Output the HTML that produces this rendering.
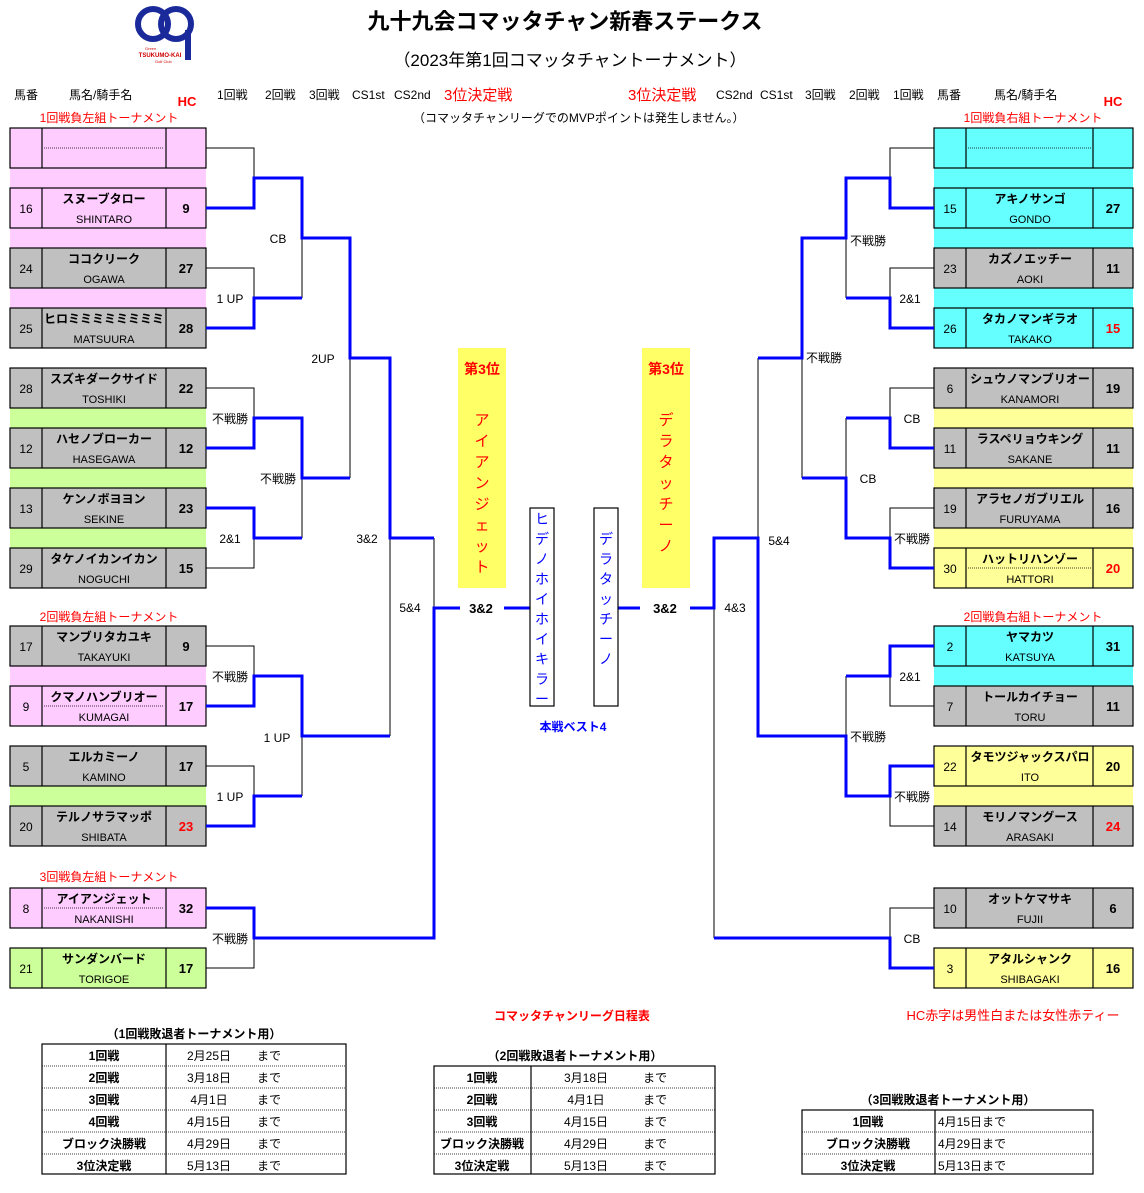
<!DOCTYPE html>
<html><head><meta charset="utf-8"><style>
body{margin:0;background:#fff}
svg{display:block;font-family:"Liberation Sans","Noto Sans CJK JP",sans-serif}
.n{font-size:12px;text-anchor:middle}
.nm{font-size:12px;font-weight:bold;text-anchor:middle}
.j{font-size:11px;text-anchor:middle}
.h{font-size:13px;font-weight:bold;text-anchor:middle}
.r{fill:#f00}
.l{font-size:12px;text-anchor:middle}
.bk{fill:none;stroke:#000;stroke-width:1}
.bl{fill:none;stroke:#00f;stroke-width:3}
.bx{stroke:#000;stroke-width:1.2}
</style></head><body>
<svg width="1144" height="1193" viewBox="0 0 1144 1193" xmlns="http://www.w3.org/2000/svg">
<g fill="none" stroke="#1a2a9a" stroke-width="6">
<circle cx="153" cy="24" r="15"/><circle cx="176" cy="24" r="15"/>
<path d="M188 30V60"/></g>
<text x="160" y="57" font-size="6" fill="#c00" font-weight="bold" text-anchor="middle">TSUKUMO-KAI</text>
<text x="145" y="50" font-size="4" fill="#c00">Green</text>
<text x="155" y="63" font-size="4" fill="#c00">Golf Club</text>
<text x="565" y="29" font-size="22" font-weight="bold" text-anchor="middle">九十九会コマッタチャン新春ステークス</text>
<text x="570" y="66" font-size="17" text-anchor="middle">（2023年第1回コマッタチャントーナメント）</text>
<g font-size="12">
<text x="14" y="99">馬番</text><text x="69" y="99">馬名/騎手名</text>
<text x="217" y="99">1回戦</text><text x="265" y="99">2回戦</text><text x="309" y="99">3回戦</text><text x="352" y="99">CS1st</text><text x="394" y="99">CS2nd</text>
<text x="716" y="99">CS2nd</text><text x="760" y="99">CS1st</text><text x="805" y="99">3回戦</text><text x="849" y="99">2回戦</text><text x="893" y="99">1回戦</text><text x="937" y="99">馬番</text><text x="994" y="99">馬名/騎手名</text>
<text x="413" y="122">（コマッタチャンリーグでのMVPポイントは発生しません。）</text>
</g>
<text x="444" y="100" font-size="15" class="r">3位決定戦</text>
<text x="628" y="100" font-size="15" class="r">3位決定戦</text>
<text x="187" y="106" class="h r">HC</text><text x="1113" y="106" class="h r">HC</text>
<g font-size="12" class="r" text-anchor="middle">
<text x="109" y="122">1回戦負左組トーナメント</text>
<text x="109" y="621">2回戦負左組トーナメント</text>
<text x="109" y="881">3回戦負左組トーナメント</text>
<text x="1033" y="122">1回戦負右組トーナメント</text>
<text x="1033" y="621">2回戦負右組トーナメント</text>
</g>
<g>
<rect x="10" y="168" width="196" height="20" fill="#fcf"/><rect x="10" y="228" width="196" height="20" fill="#fcf"/><rect x="10" y="288" width="196" height="20" fill="#fcf"/>
<rect x="10" y="408" width="196" height="20" fill="#cf9"/><rect x="10" y="468" width="196" height="20" fill="#cf9"/><rect x="10" y="528" width="196" height="20" fill="#cf9"/>
<rect x="10" y="666" width="196" height="20" fill="#fcf"/><rect x="10" y="786" width="196" height="20" fill="#cf9"/>
<rect x="934" y="168" width="199" height="20" fill="#6ff"/><rect x="934" y="228" width="199" height="20" fill="#6ff"/><rect x="934" y="288" width="199" height="20" fill="#6ff"/>
<rect x="934" y="408" width="199" height="20" fill="#ff9"/><rect x="934" y="468" width="199" height="20" fill="#ff9"/><rect x="934" y="528" width="199" height="20" fill="#ff9"/>
<rect x="934" y="666" width="199" height="20" fill="#6ff"/><rect x="934" y="786" width="199" height="20" fill="#ff9"/>
</g>
<g class="bx">
<g transform="translate(10,128)"><rect width="196" height="40" fill="#fcf"/><path d="M32 0V40M156 0V40"/><path d="M34 20H154" stroke-dasharray="1 1" stroke-width="0.8"/></g>
</g>
<g transform="translate(10,188)"><rect width="196" height="40" fill="#fcf" class="bx"/><path d="M32 0V40M156 0V40" class="bx"/><text x="16" y="25" class="n">16</text><text x="94" y="15" class="nm">スヌーブタロー</text><text x="94" y="35" class="j">SHINTARO</text><text x="176" y="25" class="h">9</text></g>
<g transform="translate(10,248)"><rect width="196" height="40" fill="#c0c0c0" class="bx"/><path d="M32 0V40M156 0V40" class="bx"/><text x="16" y="25" class="n">24</text><text x="94" y="15" class="nm">ココクリーク</text><text x="94" y="35" class="j">OGAWA</text><text x="176" y="25" class="h">27</text></g>
<g transform="translate(10,308)"><rect width="196" height="40" fill="#c0c0c0" class="bx"/><path d="M32 0V40M156 0V40" class="bx"/><text x="16" y="25" class="n">25</text><text x="94" y="15" class="nm">ヒロミミミミミミミミ</text><text x="94" y="35" class="j">MATSUURA</text><text x="176" y="25" class="h">28</text></g>
<g transform="translate(10,368)"><rect width="196" height="40" fill="#c0c0c0" class="bx"/><path d="M32 0V40M156 0V40" class="bx"/><text x="16" y="25" class="n">28</text><text x="94" y="15" class="nm">スズキダークサイド</text><text x="94" y="35" class="j">TOSHIKI</text><text x="176" y="25" class="h">22</text></g>
<g transform="translate(10,428)"><rect width="196" height="40" fill="#c0c0c0" class="bx"/><path d="M32 0V40M156 0V40" class="bx"/><text x="16" y="25" class="n">12</text><text x="94" y="15" class="nm">ハセノブローカー</text><text x="94" y="35" class="j">HASEGAWA</text><text x="176" y="25" class="h">12</text></g>
<g transform="translate(10,488)"><rect width="196" height="40" fill="#c0c0c0" class="bx"/><path d="M32 0V40M156 0V40" class="bx"/><text x="16" y="25" class="n">13</text><text x="94" y="15" class="nm">ケンノボヨヨン</text><text x="94" y="35" class="j">SEKINE</text><text x="176" y="25" class="h">23</text></g>
<g transform="translate(10,548)"><rect width="196" height="40" fill="#c0c0c0" class="bx"/><path d="M32 0V40M156 0V40" class="bx"/><text x="16" y="25" class="n">29</text><text x="94" y="15" class="nm">タケノイカンイカン</text><text x="94" y="35" class="j">NOGUCHI</text><text x="176" y="25" class="h">15</text></g>
<g transform="translate(10,626)"><rect width="196" height="40" fill="#c0c0c0" class="bx"/><path d="M32 0V40M156 0V40" class="bx"/><text x="16" y="25" class="n">17</text><text x="94" y="15" class="nm">マンブリタカユキ</text><text x="94" y="35" class="j">TAKAYUKI</text><text x="176" y="25" class="h">9</text></g>
<g transform="translate(10,686)"><rect width="196" height="40" fill="#fcf" class="bx"/><path d="M32 0V40M156 0V40" class="bx"/><path d="M34 20H154" stroke="#000" stroke-dasharray="1 1" stroke-width="0.8"/><text x="16" y="25" class="n">9</text><text x="94" y="15" class="nm">クマノハンブリオー</text><text x="94" y="35" class="j">KUMAGAI</text><text x="176" y="25" class="h">17</text></g>
<g transform="translate(10,746)"><rect width="196" height="40" fill="#c0c0c0" class="bx"/><path d="M32 0V40M156 0V40" class="bx"/><text x="16" y="25" class="n">5</text><text x="94" y="15" class="nm">エルカミーノ</text><text x="94" y="35" class="j">KAMINO</text><text x="176" y="25" class="h">17</text></g>
<g transform="translate(10,806)"><rect width="196" height="40" fill="#c0c0c0" class="bx"/><path d="M32 0V40M156 0V40" class="bx"/><text x="16" y="25" class="n">20</text><text x="94" y="15" class="nm">テルノサラマッポ</text><text x="94" y="35" class="j">SHIBATA</text><text x="176" y="25" class="h r">23</text></g>
<g transform="translate(10,888)"><rect width="196" height="40" fill="#fcf" class="bx"/><path d="M32 0V40M156 0V40" class="bx"/><path d="M34 20H154" stroke="#000" stroke-dasharray="1 1" stroke-width="0.8"/><text x="16" y="25" class="n">8</text><text x="94" y="15" class="nm">アイアンジェット</text><text x="94" y="35" class="j">NAKANISHI</text><text x="176" y="25" class="h">32</text></g>
<g transform="translate(10,948)"><rect width="196" height="40" fill="#cf9" class="bx"/><path d="M32 0V40M156 0V40" class="bx"/><text x="16" y="25" class="n">21</text><text x="94" y="15" class="nm">サンダンバード</text><text x="94" y="35" class="j">TORIGOE</text><text x="176" y="25" class="h">17</text></g>
<g transform="translate(934,128)"><rect width="199" height="40" fill="#6ff" class="bx"/><path d="M32 0V40M159 0V40" class="bx"/><path d="M34 20H157" stroke="#000" stroke-dasharray="1 1" stroke-width="0.8"/></g>
<g transform="translate(934,188)"><rect width="199" height="40" fill="#6ff" class="bx"/><path d="M32 0V40M159 0V40" class="bx"/><text x="16" y="25" class="n">15</text><text x="96" y="15" class="nm">アキノサンゴ</text><text x="96" y="35" class="j">GONDO</text><text x="179" y="25" class="h">27</text></g>
<g transform="translate(934,248)"><rect width="199" height="40" fill="#c0c0c0" class="bx"/><path d="M32 0V40M159 0V40" class="bx"/><text x="16" y="25" class="n">23</text><text x="96" y="15" class="nm">カズノエッチー</text><text x="96" y="35" class="j">AOKI</text><text x="179" y="25" class="h">11</text></g>
<g transform="translate(934,308)"><rect width="199" height="40" fill="#6ff" class="bx"/><path d="M32 0V40M159 0V40" class="bx"/><text x="16" y="25" class="n">26</text><text x="96" y="15" class="nm">タカノマンギラオ</text><text x="96" y="35" class="j">TAKAKO</text><text x="179" y="25" class="h r">15</text></g>
<g transform="translate(934,368)"><rect width="199" height="40" fill="#c0c0c0" class="bx"/><path d="M32 0V40M159 0V40" class="bx"/><text x="16" y="25" class="n">6</text><text x="96" y="15" class="nm">シュウノマンブリオー</text><text x="96" y="35" class="j">KANAMORI</text><text x="179" y="25" class="h">19</text></g>
<g transform="translate(934,428)"><rect width="199" height="40" fill="#c0c0c0" class="bx"/><path d="M32 0V40M159 0V40" class="bx"/><text x="16" y="25" class="n">11</text><text x="96" y="15" class="nm">ラスペリョウキング</text><text x="96" y="35" class="j">SAKANE</text><text x="179" y="25" class="h">11</text></g>
<g transform="translate(934,488)"><rect width="199" height="40" fill="#c0c0c0" class="bx"/><path d="M32 0V40M159 0V40" class="bx"/><text x="16" y="25" class="n">19</text><text x="96" y="15" class="nm">アラセノガブリエル</text><text x="96" y="35" class="j">FURUYAMA</text><text x="179" y="25" class="h">16</text></g>
<g transform="translate(934,548)"><rect width="199" height="40" fill="#ff9" class="bx"/><path d="M32 0V40M159 0V40" class="bx"/><path d="M34 20H157" stroke="#000" stroke-dasharray="1 1" stroke-width="0.8"/><text x="16" y="25" class="n">30</text><text x="96" y="15" class="nm">ハットリハンゾー</text><text x="96" y="35" class="j">HATTORI</text><text x="179" y="25" class="h r">20</text></g>
<g transform="translate(934,626)"><rect width="199" height="40" fill="#6ff" class="bx"/><path d="M32 0V40M159 0V40" class="bx"/><text x="16" y="25" class="n">2</text><text x="96" y="15" class="nm">ヤマカツ</text><text x="96" y="35" class="j">KATSUYA</text><text x="179" y="25" class="h">31</text></g>
<g transform="translate(934,686)"><rect width="199" height="40" fill="#c0c0c0" class="bx"/><path d="M32 0V40M159 0V40" class="bx"/><text x="16" y="25" class="n">7</text><text x="96" y="15" class="nm">トールカイチョー</text><text x="96" y="35" class="j">TORU</text><text x="179" y="25" class="h">11</text></g>
<g transform="translate(934,746)"><rect width="199" height="40" fill="#ff9" class="bx"/><path d="M32 0V40M159 0V40" class="bx"/><text x="16" y="25" class="n">22</text><text x="96" y="15" class="nm">タモツジャックスパロ</text><text x="96" y="35" class="j">ITO</text><text x="179" y="25" class="h">20</text></g>
<g transform="translate(934,806)"><rect width="199" height="40" fill="#c0c0c0" class="bx"/><path d="M32 0V40M159 0V40" class="bx"/><text x="16" y="25" class="n">14</text><text x="96" y="15" class="nm">モリノマングース</text><text x="96" y="35" class="j">ARASAKI</text><text x="179" y="25" class="h r">24</text></g>
<g transform="translate(934,888)"><rect width="199" height="40" fill="#c0c0c0" class="bx"/><path d="M32 0V40M159 0V40" class="bx"/><text x="16" y="25" class="n">10</text><text x="96" y="15" class="nm">オットケマサキ</text><text x="96" y="35" class="j">FUJII</text><text x="179" y="25" class="h">6</text></g>
<g transform="translate(934,948)"><rect width="199" height="40" fill="#ff9" class="bx"/><path d="M32 0V40M159 0V40" class="bx"/><text x="16" y="25" class="n">3</text><text x="96" y="15" class="nm">アタルシャンク</text><text x="96" y="35" class="j">SHIBAGAKI</text><text x="179" y="25" class="h">16</text></g>
<path class="bk" d="M206 148H254V178M206 268H254V298M302 298V238M350 358V478M206 388H254V418M206 568H254V538M302 478V538M390 538V736M206 646H254V676M206 766H254V796M302 736V796M434 538V608M206 968H254V938
M934 148H890V178M934 268H890V298M846 238V298M758 358V538M934 388H890V418M846 418V478M934 508H890V538M802 358V478M934 706H890V676M846 676V736M934 826H890V796M934 908H890V938M714 608V938"/>
<path class="bl" d="M206 208H254V178H302V238H350V358H390V538H434M206 328H254V298H302M206 448H254V418H302V478H350M206 508H254V538H302M206 706H254V676H302V736H390M206 826H254V796H302M206 908H254V938H434V608H460M504 608H530M618 608H640M690 608H714V538H758V736H846V796H890V766H934M934 646H890V676H846
M934 208H890V178H846V238H802V358H758M934 328H890V298H846M934 448H890V418H846M934 568H890V538H846V478H802M934 968H890V938H714"/>
<g class="l">
<text x="278" y="243">CB</text><text x="230" y="303">1 UP</text><text x="323" y="363">2UP</text>
<text x="230" y="423">不戦勝</text><text x="278" y="483">不戦勝</text><text x="230" y="543">2&amp;1</text><text x="367" y="543">3&amp;2</text>
<text x="410" y="612">5&amp;4</text><text x="230" y="681">不戦勝</text><text x="277" y="742">1 UP</text><text x="230" y="801">1 UP</text><text x="230" y="943">不戦勝</text>
<text x="868" y="245">不戦勝</text><text x="910" y="303">2&amp;1</text><text x="824" y="362">不戦勝</text>
<text x="912" y="423">CB</text><text x="868" y="483">CB</text><text x="779" y="545">5&amp;4</text><text x="912" y="543">不戦勝</text>
<text x="735" y="612">4&amp;3</text><text x="910" y="681">2&amp;1</text><text x="868" y="741">不戦勝</text><text x="912" y="801">不戦勝</text><text x="912" y="943">CB</text>
</g>
<text x="481" y="613" font-size="13" font-weight="bold" text-anchor="middle">3&amp;2</text>
<text x="665" y="613" font-size="13" font-weight="bold" text-anchor="middle">3&amp;2</text>
<rect x="458" y="348" width="48" height="240" fill="#ff6"/>
<rect x="642" y="348" width="48" height="240" fill="#ff6"/>
<g font-size="14" font-weight="bold" class="r" text-anchor="middle"><text x="482" y="374">第3位</text><text x="666" y="374">第3位</text></g>
<g font-size="15" class="r" text-anchor="middle">
<text x="482" y="425">ア</text><text x="482" y="446">イ</text><text x="482" y="467">ア</text><text x="482" y="488">ン</text><text x="482" y="509">ジ</text><text x="482" y="530">ェ</text><text x="482" y="551">ッ</text><text x="482" y="572">ト</text>
<text x="666" y="425">デ</text><text x="666" y="446">ラ</text><text x="666" y="467">タ</text><text x="666" y="488">ッ</text><text x="666" y="509">チ</text><text x="666" y="530">ー</text><text x="666" y="551">ノ</text>
</g>
<rect x="530" y="508" width="24" height="198" fill="#fff" class="bx"/>
<rect x="594" y="508" width="24" height="198" fill="#fff" class="bx"/>
<g font-size="14" fill="#00f" text-anchor="middle">
<text x="542" y="524">ヒ</text><text x="542" y="544">デ</text><text x="542" y="564">ノ</text><text x="542" y="584">ホ</text><text x="542" y="604">イ</text><text x="542" y="624">ホ</text><text x="542" y="644">イ</text><text x="542" y="664">キ</text><text x="542" y="684">ラ</text><text x="542" y="704">ー</text>
<text x="606" y="544">デ</text><text x="606" y="564">ラ</text><text x="606" y="584">タ</text><text x="606" y="604">ッ</text><text x="606" y="624">チ</text><text x="606" y="644">ー</text><text x="606" y="664">ノ</text>
</g>
<text x="573" y="731" font-size="12" font-weight="bold" fill="#00f" text-anchor="middle">本戦ベスト4</text>
<text x="572" y="1020" font-size="12" font-weight="bold" class="r" text-anchor="middle">コマッタチャンリーグ日程表</text>
<text x="1013" y="1020" font-size="13" class="r" text-anchor="middle">HC赤字は男性白または女性赤ティー</text>
<g font-size="12">
<text x="194" y="1038" font-weight="bold" text-anchor="middle">（1回戦敗退者トーナメント用）</text>
<rect x="42" y="1044" width="304" height="130" fill="none" class="bx"/>
<path d="M166 1044V1174" class="bx"/>
<path d="M42 1066H346M42 1088H346M42 1110H346M42 1132H346M42 1154H346" stroke="#000" stroke-dasharray="1 1" stroke-width="0.8"/>
<g font-weight="bold" text-anchor="middle"><text x="104" y="1060">1回戦</text><text x="104" y="1082">2回戦</text><text x="104" y="1104">3回戦</text><text x="104" y="1126">4回戦</text><text x="104" y="1148">ブロック決勝戦</text><text x="104" y="1170">3位決定戦</text></g>
<g text-anchor="middle"><text x="209" y="1060">2月25日</text><text x="209" y="1082">3月18日</text><text x="209" y="1104">4月1日</text><text x="209" y="1126">4月15日</text><text x="209" y="1148">4月29日</text><text x="209" y="1170">5月13日</text></g>
<g><text x="257" y="1060">まで</text><text x="257" y="1082">まで</text><text x="257" y="1104">まで</text><text x="257" y="1126">まで</text><text x="257" y="1148">まで</text><text x="257" y="1170">まで</text></g>
<text x="575" y="1060" font-weight="bold" text-anchor="middle">（2回戦敗退者トーナメント用）</text>
<rect x="434" y="1066" width="281" height="108" fill="none" class="bx"/>
<path d="M531 1066V1174" class="bx"/>
<path d="M434 1088H715M434 1110H715M434 1132H715M434 1154H715" stroke="#000" stroke-dasharray="1 1" stroke-width="0.8"/>
<g font-weight="bold" text-anchor="middle"><text x="482" y="1082">1回戦</text><text x="482" y="1104">2回戦</text><text x="482" y="1126">3回戦</text><text x="482" y="1148">ブロック決勝戦</text><text x="482" y="1170">3位決定戦</text></g>
<g text-anchor="middle"><text x="586" y="1082">3月18日</text><text x="586" y="1104">4月1日</text><text x="586" y="1126">4月15日</text><text x="586" y="1148">4月29日</text><text x="586" y="1170">5月13日</text></g>
<g><text x="643" y="1082">まで</text><text x="643" y="1104">まで</text><text x="643" y="1126">まで</text><text x="643" y="1148">まで</text><text x="643" y="1170">まで</text></g>
<text x="948" y="1104" font-weight="bold" text-anchor="middle">（3回戦敗退者トーナメント用）</text>
<rect x="802" y="1110" width="291" height="64" fill="none" class="bx"/>
<path d="M935 1110V1174" class="bx"/>
<path d="M802 1132H1093M802 1154H1093" stroke="#000" stroke-dasharray="1 1" stroke-width="0.8"/>
<g font-weight="bold" text-anchor="middle"><text x="868" y="1126">1回戦</text><text x="868" y="1148">ブロック決勝戦</text><text x="868" y="1170">3位決定戦</text></g>
<g><text x="938" y="1126">4月15日まで</text><text x="938" y="1148">4月29日まで</text><text x="938" y="1170">5月13日まで</text></g>
</g>
</svg>
</body></html>
